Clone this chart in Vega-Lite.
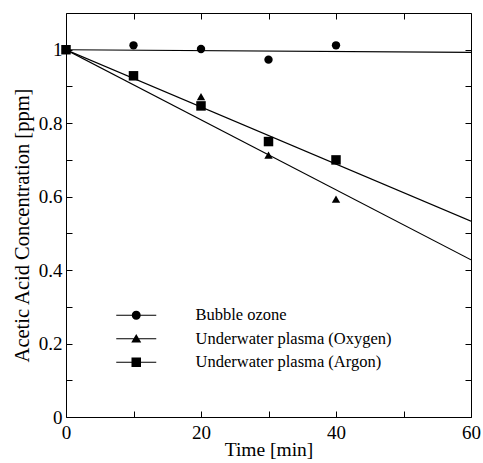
{
  "$schema": "https://vega.github.io/schema/vega-lite/v6.json",
  "width": 405,
  "height": 404,
  "autosize": {"type": "none"},
  "padding": {"left": 66, "top": 13, "right": 12, "bottom": 46},
  "background": "white",
  "config": {
    "font": "Liberation Serif",
    "view": {"stroke": null},
    "axis": {
      "labelFont": "Liberation Serif",
      "titleFont": "Liberation Serif",
      "labelColor": "black",
      "titleColor": "black",
      "domainColor": "black",
      "tickColor": "black",
      "grid": false,
      "tickSize": -6,
      "labelFontSize": 19,
      "titleFontSize": 19.5,
      "titleFontWeight": "normal"
    },
    "legend": {
      "labelFont": "Liberation Serif",
      "labelColor": "black",
      "labelLimit": 0
    }
  },
  "datasets": {
    "points": [
      {"series": "Bubble ozone", "time": 0, "conc": 1.0},
      {"series": "Bubble ozone", "time": 10, "conc": 1.012},
      {"series": "Bubble ozone", "time": 20, "conc": 1.002},
      {"series": "Bubble ozone", "time": 30, "conc": 0.973},
      {"series": "Bubble ozone", "time": 40, "conc": 1.012},
      {"series": "Underwater plasma (Oxygen)", "time": 0, "conc": 1.0},
      {"series": "Underwater plasma (Oxygen)", "time": 10, "conc": 0.928},
      {"series": "Underwater plasma (Oxygen)", "time": 20, "conc": 0.872},
      {"series": "Underwater plasma (Oxygen)", "time": 30, "conc": 0.713},
      {"series": "Underwater plasma (Oxygen)", "time": 40, "conc": 0.593},
      {"series": "Underwater plasma (Argon)", "time": 0, "conc": 1.0},
      {"series": "Underwater plasma (Argon)", "time": 10, "conc": 0.929},
      {"series": "Underwater plasma (Argon)", "time": 20, "conc": 0.847},
      {"series": "Underwater plasma (Argon)", "time": 30, "conc": 0.75},
      {"series": "Underwater plasma (Argon)", "time": 40, "conc": 0.70}
    ],
    "fits": [
      {"series": "Bubble ozone", "time": 0, "conc": 1.0},
      {"series": "Bubble ozone", "time": 60, "conc": 0.993},
      {"series": "Underwater plasma (Oxygen)", "time": 0, "conc": 1.0},
      {"series": "Underwater plasma (Oxygen)", "time": 60, "conc": 0.428},
      {"series": "Underwater plasma (Argon)", "time": 0, "conc": 1.0},
      {"series": "Underwater plasma (Argon)", "time": 60, "conc": 0.533}
    ]
  },
  "layer": [
    {
      "data": {"name": "fits"},
      "mark": {"type": "line", "color": "black", "strokeWidth": 1.2, "clip": true},
      "encoding": {
        "x": {
          "field": "time", "type": "quantitative",
          "scale": {"domain": [0, 60], "nice": false},
          "axis": {
            "orient": "bottom",
            "title": "Time [min]",
            "values": [0, 10, 20, 30, 40, 50, 60],
            "labelExpr": "datum.value % 20 == 0 ? datum.label : ''",
            "labelPadding": 12,
            "titlePadding": -2,
            "labelFlush": false
          }
        },
        "y": {
          "field": "conc", "type": "quantitative",
          "scale": {"domain": [0, 1.1], "nice": false, "zero": true},
          "axis": {
            "orient": "left",
            "title": "Acetic Acid Concentration [ppm]",
            "titleFontSize": 20.5,
            "titleY": 212,
            "values": [0, 0.1, 0.2, 0.3, 0.4, 0.5, 0.6, 0.7, 0.8, 0.9, 1.0],
            "labelExpr": "round(datum.value * 10) % 2 == 0 ? format(datum.value, '~g') : ''",
            "labelPadding": 10,
            "titlePadding": 6,
            "labelFlush": false
          }
        },
        "detail": {"field": "series"}
      }
    },
    {
      "data": {"name": "points"},
      "transform": [{"filter": "datum.series == 'Bubble ozone'"}],
      "mark": {"type": "point", "filled": true, "color": "black", "opacity": 1, "size": 70, "shape": "circle"},
      "encoding": {
        "x": {"field": "time", "type": "quantitative", "axis": null},
        "y": {"field": "conc", "type": "quantitative", "axis": null}
      }
    },
    {
      "data": {"name": "points"},
      "transform": [{"filter": "datum.series == 'Underwater plasma (Oxygen)'"}],
      "mark": {"type": "point", "filled": true, "color": "black", "opacity": 1, "size": 70, "shape": "triangle-up"},
      "encoding": {
        "x": {"field": "time", "type": "quantitative", "axis": null},
        "y": {"field": "conc", "type": "quantitative", "axis": null}
      }
    },
    {
      "data": {"name": "points"},
      "transform": [{"filter": "datum.series == 'Underwater plasma (Argon)'"}],
      "mark": {"type": "point", "filled": true, "color": "black", "opacity": 1, "size": 90, "shape": "square"},
      "encoding": {
        "x": {"field": "time", "type": "quantitative", "axis": null},
        "y": {"field": "conc", "type": "quantitative", "axis": null}
      }
    },
    {
      "data": {"name": "points"},
      "mark": {"type": "point", "filled": true, "color": "black", "opacity": 0},
      "encoding": {
        "x": {"field": "time", "type": "quantitative", "axis": null},
        "y": {"field": "conc", "type": "quantitative", "axis": null},
        "shape": {
          "field": "series", "type": "nominal",
          "scale": {
            "domain": ["Bubble ozone", "Underwater plasma (Oxygen)", "Underwater plasma (Argon)"],
            "range": [
              "M-4,-0.12H4V0.12H-4ZM0.9,0A0.9,0.9 0 1,1 -0.9,0A0.9,0.9 0 1,1 0.9,0Z",
              "M-4,-0.12H4V0.12H-4ZM0,-0.95L1,0.75L-1,0.75Z",
              "M-4,-0.12H4V0.12H-4ZM-0.95,-0.95H0.95V0.95H-0.95Z"
            ]
          },
          "legend": {
            "title": null,
            "orient": "none",
            "legendX": 62,
            "legendY": 294,
            "padding": 0,
            "symbolSize": 100,
            "symbolFillColor": "black",
            "symbolStrokeColor": "black",
            "symbolStrokeWidth": 0.6,
            "symbolOpacity": 1,
            "labelFontSize": 16.5,
            "labelOffset": 51,
            "rowPadding": 6.5,
            "labelLimit": 0,
            "encode": {"symbols": {"update": {"opacity": {"value": 1}, "fill": {"value": "black"}, "fillOpacity": {"value": 1}, "stroke": {"value": "black"}, "strokeWidth": {"value": 0.6}, "strokeOpacity": {"value": 1}}}}
          }
        }
      }
    },
    {
      "data": {"name": "fits"},
      "mark": {"type": "point", "opacity": 0},
      "encoding": {
        "x": {
          "field": "time", "type": "quantitative",
          "axis": {"orient": "top", "title": null, "labels": false, "values": [0, 10, 20, 30, 40, 50, 60]}
        },
        "y": {
          "field": "conc", "type": "quantitative",
          "axis": {"orient": "right", "title": null, "labels": false, "values": [0, 0.1, 0.2, 0.3, 0.4, 0.5, 0.6, 0.7, 0.8, 0.9, 1.0]}
        }
      }
    }
  ],
  "resolve": {
    "axis": {"x": "independent", "y": "independent"}
  }
}
